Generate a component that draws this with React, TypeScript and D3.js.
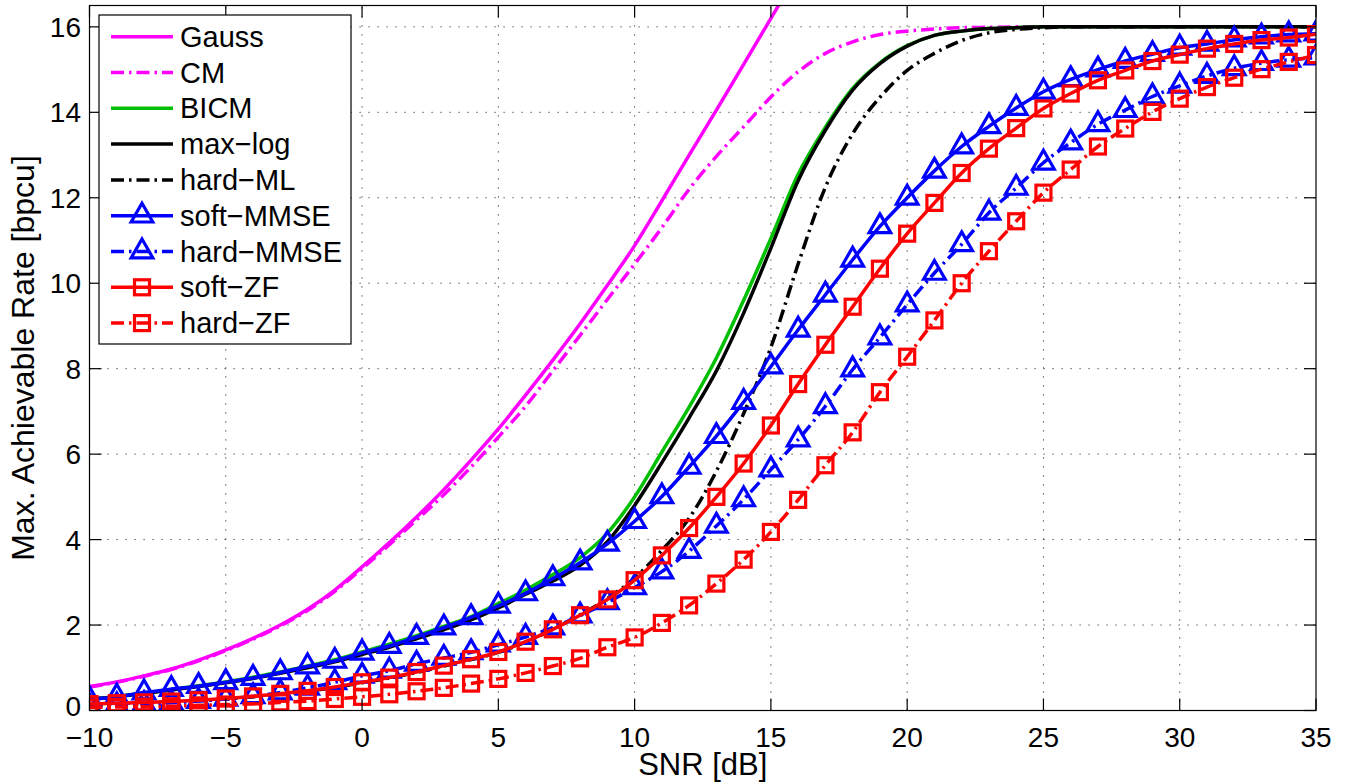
import React from 'react';
import * as d3 from 'd3';

const SNR = [-10,-9,-8,-7,-6,-5,-4,-3,-2,-1,0,1,2,3,4,5,6,7,8,9,10,11,12,13,14,15,16,17,18,19,20,21,22,23,24,25,26,27,28,29,30,31,32,33,34,35];

const GAUSS = [0.56,0.67,0.81,0.97,1.18,1.42,1.69,2.0,2.37,2.82,3.36,3.93,4.53,5.17,5.86,6.59,7.38,8.2,9.05,9.95,10.88,11.93,13.0,14.05,15.12,16.2,17.27,18.3];
const CM = [0.55,0.66,0.8,0.96,1.16,1.4,1.67,1.98,2.34,2.79,3.32,3.88,4.46,5.05,5.7,6.4,7.12,7.95,8.78,9.62,10.45,11.3,12.2,12.97,13.66,14.36,14.95,15.38,15.65,15.82,15.9,15.95,15.98,15.99,16,16,16,16,16,16,16,16,16,16,16,16];
const BICM = [0.27,0.33,0.41,0.49,0.58,0.67,0.78,0.9,1.04,1.19,1.37,1.55,1.75,1.97,2.2,2.5,2.82,3.18,3.58,4.15,5.0,6.05,7.1,8.25,9.6,11.05,12.55,13.65,14.56,15.16,15.56,15.8,15.9,15.96,15.98,16,16,16,16,16,16,16,16,16,16,16];
const MAXLOG = [0.26,0.32,0.4,0.48,0.56,0.65,0.75,0.87,1.0,1.14,1.31,1.48,1.68,1.89,2.12,2.4,2.72,3.03,3.4,3.95,4.8,5.8,6.85,7.95,9.3,10.82,12.4,13.58,14.52,15.14,15.55,15.8,15.9,15.96,15.98,16,16,16,16,16,16,16,16,16,16,16];
const HARDML = [0.14,0.16,0.18,0.2,0.23,0.27,0.32,0.38,0.45,0.54,0.65,0.76,0.89,1.04,1.19,1.36,1.6,1.9,2.24,2.62,3.1,3.75,4.5,5.6,6.95,8.5,10.45,12.25,13.5,14.35,14.98,15.38,15.68,15.86,15.94,15.98,16,16,16,16,16,16,16,16,16,16];
const SOFT_MMSE = [0.26,0.32,0.42,0.5,0.57,0.66,0.76,0.89,1.03,1.16,1.35,1.51,1.72,1.94,2.18,2.45,2.74,3.09,3.46,3.9,4.43,5.01,5.7,6.42,7.22,8.05,8.91,9.73,10.55,11.33,12.0,12.63,13.2,13.67,14.1,14.48,14.77,15.0,15.2,15.36,15.51,15.6,15.7,15.77,15.82,15.84];
const HARD_MMSE = [0.1,0.12,0.15,0.18,0.22,0.27,0.33,0.42,0.53,0.66,0.81,0.93,1.09,1.23,1.36,1.54,1.72,1.94,2.22,2.53,2.88,3.25,3.73,4.32,4.94,5.64,6.34,7.12,7.98,8.73,9.5,10.24,10.91,11.65,12.23,12.82,13.29,13.72,14.05,14.37,14.62,14.85,15.03,15.15,15.23,15.28];
const SOFT_ZF = [0.15,0.17,0.19,0.21,0.24,0.28,0.33,0.39,0.46,0.55,0.66,0.77,0.9,1.05,1.2,1.37,1.61,1.9,2.23,2.6,3.05,3.63,4.27,5.0,5.78,6.67,7.64,8.56,9.45,10.34,11.16,11.88,12.58,13.15,13.63,14.09,14.44,14.75,14.98,15.2,15.35,15.49,15.6,15.69,15.75,15.83];
const HARD_ZF = [0.07,0.08,0.09,0.1,0.12,0.14,0.16,0.19,0.22,0.27,0.32,0.38,0.45,0.53,0.63,0.74,0.88,1.04,1.22,1.48,1.71,2.05,2.46,2.97,3.53,4.18,4.93,5.74,6.51,7.45,8.28,9.13,10.0,10.75,11.45,12.12,12.66,13.2,13.62,14.01,14.32,14.59,14.81,15.01,15.18,15.34];

const X_TICKS = [-10,-5,0,5,10,15,20,25,30,35];
const Y_TICKS = [0,2,4,6,8,10,12,14,16];

const MAGENTA = '#ff00ff';
const GREEN = '#00bf00';
const BLUE = '#0000ff';
const RED = '#ff0000';
const BLACK = '#000000';
const DASHDOT = '13 5 2.5 5';

type Series = { name: string; values: number[]; color: string; dash?: string; marker?: 'tri' | 'sq' };

const SERIES: Series[] = [
  { name: 'Gauss', values: GAUSS, color: MAGENTA },
  { name: 'CM', values: CM, color: MAGENTA, dash: DASHDOT },
  { name: 'BICM', values: BICM, color: GREEN },
  { name: 'max\u2212log', values: MAXLOG, color: BLACK },
  { name: 'hard\u2212ML', values: HARDML, color: BLACK, dash: DASHDOT },
  { name: 'soft\u2212MMSE', values: SOFT_MMSE, color: BLUE, marker: 'tri' },
  { name: 'hard\u2212MMSE', values: HARD_MMSE, color: BLUE, dash: DASHDOT, marker: 'tri' },
  { name: 'soft\u2212ZF', values: SOFT_ZF, color: RED, marker: 'sq' },
  { name: 'hard\u2212ZF', values: HARD_ZF, color: RED, dash: DASHDOT, marker: 'sq' },
];

const W = 1346, H = 784;
const L = 89.5, R = 1316, T = 5.5, B = 710.5;
const FONT = '"Liberation Sans", Arial, Helvetica, sans-serif';
const LW = 3.5;

const TRI = 'M0,-12.5L10.8,6.3L-10.8,6.3Z';

function Marker({ kind, x, y, color }: { kind?: 'tri' | 'sq'; x: number; y: number; color: string }) {
  if (!kind) return null;
  if (kind === 'tri') {
    return <path d={TRI} transform={`translate(${x},${y})`} fill="none" stroke={color} strokeWidth={3.2} strokeLinejoin="miter" />;
  }
  return <rect x={x - 7.5} y={y - 7.5} width={15} height={15} fill="none" stroke={color} strokeWidth={3.2} />;
}

export default function App() {
  const x = d3.scaleLinear().domain([-10, 35]).range([L, R]);
  const y = d3.scaleLinear().domain([0, 16.5]).range([B, T]);
  const line = d3.line<number>().x((_, i) => x(SNR[i])).y((d) => y(d)).curve(d3.curveMonotoneX);

  const legX = 99, legY = 15, legW = 252, legH = 329;
  const rowY = (i: number) => 36.7 + i * 35.8;

  return (
    <svg width={W} height={H} style={{ position: 'absolute', left: 0, top: 0, background: '#fff' }} fontFamily={FONT}>
      <defs>
        <clipPath id="plot"><rect x={L} y={T} width={R - L} height={B - T} /></clipPath>
      </defs>
      <rect x={0} y={0} width={W} height={H} fill="#fff" />
      <g stroke="#333" strokeWidth={1} strokeDasharray="1.2 7.8">
        {X_TICKS.slice(1, -1).map((t) => <line key={'gx' + t} x1={x(t)} x2={x(t)} y1={B} y2={T} />)}
        {Y_TICKS.slice(1).map((t) => <line key={'gy' + t} x1={L} x2={R} y1={y(t)} y2={y(t)} />)}
      </g>
      <g clipPath="url(#plot)">
        {SERIES.map((s) => (
          <g key={s.name}>
            <path d={line(s.values) || ''} fill="none" stroke={s.color} strokeWidth={LW} strokeDasharray={s.dash} strokeLinejoin="round" />
            {s.marker && s.values.map((v, i) => <Marker key={i} kind={s.marker} x={x(SNR[i])} y={y(v)} color={s.color} />)}
          </g>
        ))}
      </g>
      <rect x={L} y={T} width={R - L} height={B - T} fill="none" stroke="#000" strokeWidth={1.2} />
      <g stroke="#000" strokeWidth={1.2}>
        {X_TICKS.map((t) => (
          <g key={'tx' + t}>
            <line x1={x(t)} x2={x(t)} y1={B} y2={B - 12} />
            <line x1={x(t)} x2={x(t)} y1={T} y2={T + 12} />
          </g>
        ))}
        {Y_TICKS.map((t) => (
          <g key={'ty' + t}>
            <line x1={L} x2={L + 12} y1={y(t)} y2={y(t)} />
            <line x1={R} x2={R - 12} y1={y(t)} y2={y(t)} />
          </g>
        ))}
      </g>
      <g fontSize={28} fill="#000">
        {X_TICKS.map((t) => (
          <text key={'lx' + t} x={x(t)} y={747} textAnchor="middle">{t < 0 ? '\u2212' + Math.abs(t) : String(t)}</text>
        ))}
        {Y_TICKS.map((t) => (
          <text key={'ly' + t} x={81} y={y(t) + (t === 0 ? 5 : 10)} textAnchor="end">{t}</text>
        ))}
      </g>
      <text x={(L + R) / 2} y={775} textAnchor="middle" fontSize={31}>SNR [dB]</text>
      <text transform={`translate(34,${(T + B) / 2}) rotate(-90)`} textAnchor="middle" fontSize={32}>Max. Achievable Rate [bpcu]</text>
      <rect x={legX} y={legY} width={legW} height={legH} fill="#fff" stroke="#000" strokeWidth={1.2} />
      {SERIES.map((s, i) => (
        <g key={'leg' + s.name}>
          <line x1={111} x2={173} y1={rowY(i)} y2={rowY(i)} stroke={s.color} strokeWidth={LW} strokeDasharray={s.dash} />
          <Marker kind={s.marker} x={142} y={rowY(i)} color={s.color} />
          <text x={180} y={rowY(i) + 10} fontSize={29}>{s.name}</text>
        </g>
      ))}
    </svg>
  );
}
